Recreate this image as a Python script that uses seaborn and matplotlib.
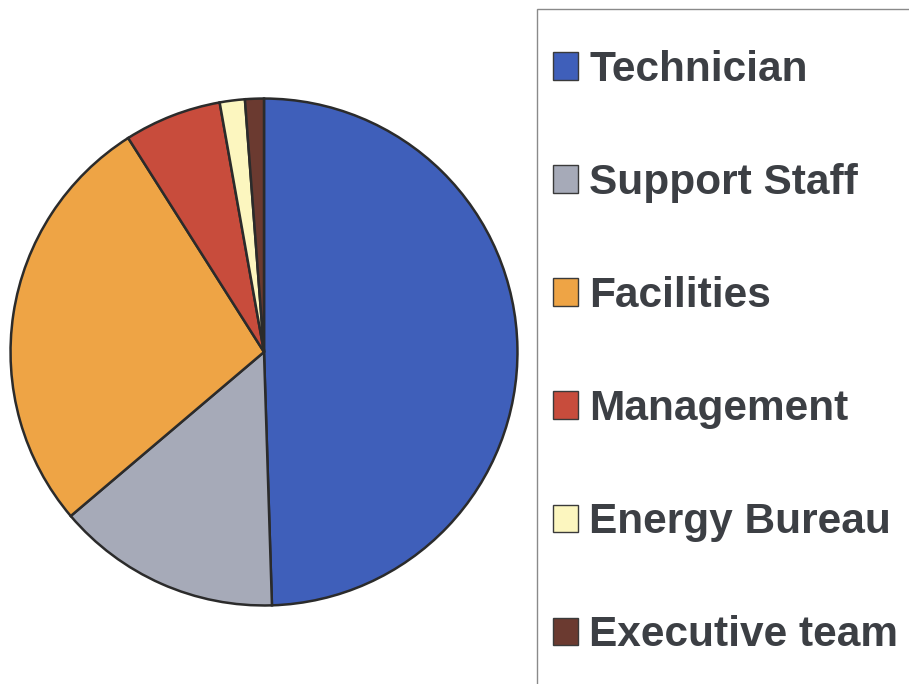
import matplotlib
matplotlib.use("Agg")
import matplotlib.pyplot as plt
from matplotlib.patches import Rectangle, Patch
import seaborn as sns

# share of staff by group (percent)
groups = ["Technician", "Support Staff", "Facilities", "Management",
          "Energy Bureau", "Executive team"]
shares = [49.5, 14.3, 27.2, 6.2, 1.6, 1.2]
colors = ["#3f5fba", "#a6aab8", "#eea445", "#c84c3c", "#fcf6bf", "#6b3a30"]

sns.set_theme(style="white")
plt.rcParams["font.family"] = ["Liberation Sans", "DejaVu Sans"]
pal = sns.color_palette(colors)

W, H = 909, 684
fig = plt.figure(figsize=(W / 100, H / 100), dpi=100)
fig.patch.set_facecolor("white")

ax = fig.add_axes([8 / W, 1 - 608 / H, 512 / W, 512 / H])
ax.pie(shares, colors=pal, startangle=90, counterclock=False,
       wedgeprops=dict(edgecolor="#2b2b2b", linewidth=1.8))
ax.set_xlim(-1.01, 1.01)
ax.set_ylim(-1.01, 1.01)
ax.set_aspect("equal")

# legend frame, runs off the right and bottom edge like the original
fig.patches.append(Rectangle((537 / W, -0.05), 0.5, 1 - 9 / H + 0.05,
                             transform=fig.transFigure, facecolor="none",
                             edgecolor="#8a8a8a", linewidth=1.0))

handles = [Patch(facecolor=c, edgecolor="#3a3a3a", linewidth=1.0) for c in pal]
leg = fig.legend(handles, groups, loc="upper left",
                 bbox_to_anchor=(553 / W, 1 - 50 / H), frameon=False,
                 prop=dict(size=30.5, weight="bold"), borderpad=0,
                 borderaxespad=0, handlelength=0.58, handleheight=0.63,
                 handletextpad=0.28, labelspacing=1.725)
for t in leg.get_texts():
    t.set_color("#3c3f44")

fig.savefig("out.png", dpi=100)
